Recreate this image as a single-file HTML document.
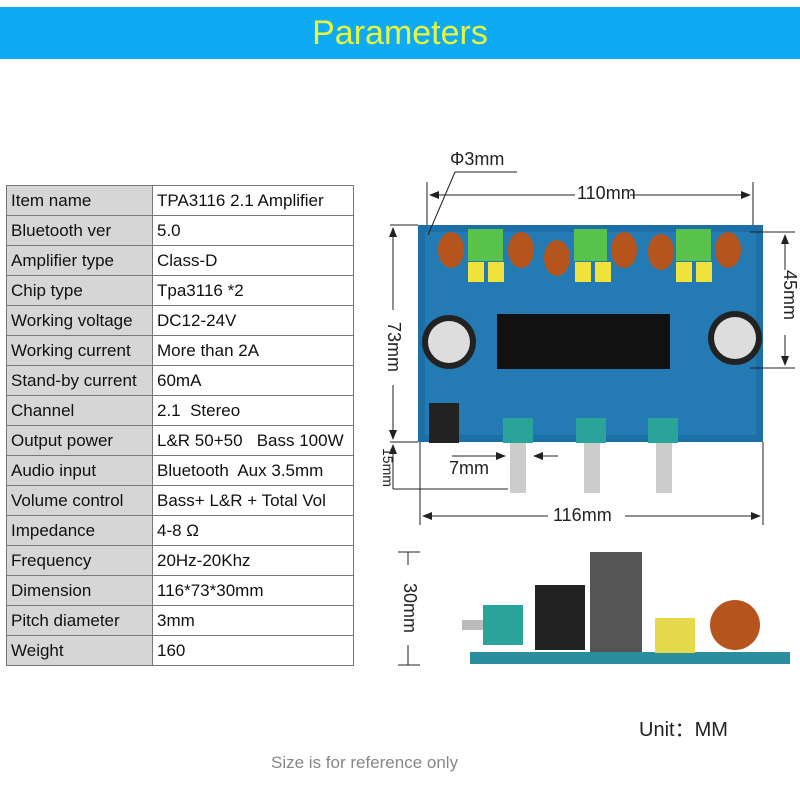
<!DOCTYPE html>
<html><head><meta charset="utf-8"><style>
body{margin:0;width:800px;height:800px;background:#fff;position:relative;overflow:hidden;font-family:"Liberation Sans",sans-serif}
.hdr{position:absolute;left:0;top:7px;width:800px;height:52px;background:#0eaaf4;color:#e8f53c;font-size:34px;text-align:center;line-height:52px}
table{position:absolute;left:6px;top:185px;border-collapse:collapse;font-size:17px;color:#111}
td{border:1px solid #777;height:29px;padding:0 4px;white-space:nowrap}
td.k{background:#d6d6d6;width:137px}
td.v{width:192px}
.t{position:absolute;font-size:18px;color:#222}
</style></head><body>
<div class="hdr">Parameters</div>
<table>
<tr><td class="k">Item name</td><td class="v">TPA3116 2.1 Amplifier</td></tr>
<tr><td class="k">Bluetooth ver</td><td class="v">5.0</td></tr>
<tr><td class="k">Amplifier type</td><td class="v">Class-D</td></tr>
<tr><td class="k">Chip type</td><td class="v">Tpa3116 *2</td></tr>
<tr><td class="k">Working voltage</td><td class="v">DC12-24V</td></tr>
<tr><td class="k">Working current</td><td class="v">More than 2A</td></tr>
<tr><td class="k">Stand-by current</td><td class="v">60mA</td></tr>
<tr><td class="k">Channel</td><td class="v">2.1&nbsp; Stereo</td></tr>
<tr><td class="k">Output power</td><td class="v">L&amp;R 50+50&nbsp;&nbsp; Bass 100W</td></tr>
<tr><td class="k">Audio input</td><td class="v">Bluetooth&nbsp; Aux 3.5mm</td></tr>
<tr><td class="k">Volume control</td><td class="v">Bass+ L&amp;R + Total Vol</td></tr>
<tr><td class="k">Impedance</td><td class="v">4-8 Ω</td></tr>
<tr><td class="k">Frequency</td><td class="v">20Hz-20Khz</td></tr>
<tr><td class="k">Dimension</td><td class="v">116*73*30mm</td></tr>
<tr><td class="k">Pitch diameter</td><td class="v">3mm</td></tr>
<tr><td class="k">Weight</td><td class="v">160</td></tr>
</table>
<svg width="800" height="800" style="position:absolute;left:0;top:0">
<defs><marker id="a" markerWidth="10" markerHeight="8" refX="9" refY="4" orient="auto"><path d="M0,0L10,4L0,8z" fill="#222"/></marker></defs>
<rect x="418" y="225" width="345" height="217" fill="#1d6fa8"/>
<rect x="425" y="232" width="331" height="203" fill="#2a84bd" opacity=".6"/>
<g fill="#b5541c"><ellipse cx="451" cy="250" rx="13" ry="18"/><ellipse cx="521" cy="250" rx="13" ry="18"/><ellipse cx="557" cy="258" rx="13" ry="18"/><ellipse cx="624" cy="250" rx="13" ry="18"/><ellipse cx="661" cy="252" rx="13" ry="18"/><ellipse cx="728" cy="250" rx="13" ry="18"/></g>
<g fill="#59c24a"><rect x="468" y="229" width="35" height="32"/><rect x="574" y="229" width="33" height="32"/><rect x="676" y="229" width="35" height="32"/></g>
<g fill="#f0e23a"><rect x="468" y="262" width="16" height="20"/><rect x="488" y="262" width="16" height="20"/><rect x="575" y="262" width="16" height="20"/><rect x="595" y="262" width="16" height="20"/><rect x="676" y="262" width="16" height="20"/><rect x="696" y="262" width="16" height="20"/></g>
<rect x="497" y="314" width="173" height="55" fill="#111"/>
<circle cx="449" cy="342" r="27" fill="#222"/><circle cx="449" cy="342" r="21" fill="#ddd"/>
<circle cx="735" cy="338" r="27" fill="#222"/><circle cx="735" cy="338" r="21" fill="#ddd"/>
<rect x="429" y="403" width="30" height="40" fill="#222"/>
<g fill="#2aa39a"><rect x="503" y="418" width="30" height="25"/><rect x="576" y="418" width="30" height="25"/><rect x="648" y="418" width="30" height="25"/></g>
<g fill="#ccc"><rect x="510" y="443" width="16" height="50"/><rect x="584" y="443" width="16" height="50"/><rect x="656" y="443" width="16" height="50"/></g>
<g stroke="#222" stroke-width="1" fill="none">
<line x1="427" y1="182" x2="427" y2="225"/><line x1="753" y1="182" x2="753" y2="225"/>
<line x1="575" y1="195" x2="430" y2="195" marker-end="url(#a)"/><line x1="630" y1="195" x2="750" y2="195" marker-end="url(#a)"/>
<line x1="517" y1="172" x2="455" y2="172"/><line x1="455" y1="172" x2="428" y2="235"/>
<line x1="390" y1="225" x2="418" y2="225"/><line x1="393" y1="310" x2="393" y2="228" marker-end="url(#a)"/><line x1="393" y1="385" x2="393" y2="439" marker-end="url(#a)"/>
<line x1="390" y1="442" x2="418" y2="442"/><line x1="393" y1="475" x2="393" y2="445" marker-end="url(#a)"/><line x1="393" y1="475" x2="393" y2="489"/><line x1="393" y1="489" x2="508" y2="489"/>
<line x1="750" y1="232" x2="795" y2="232"/><line x1="750" y1="368" x2="795" y2="368"/>
<line x1="785" y1="270" x2="785" y2="235" marker-end="url(#a)"/><line x1="785" y1="335" x2="785" y2="365" marker-end="url(#a)"/>
<line x1="420" y1="442" x2="420" y2="525"/><line x1="763" y1="442" x2="763" y2="525"/>
<line x1="548" y1="516" x2="423" y2="516" marker-end="url(#a)"/><line x1="625" y1="516" x2="760" y2="516" marker-end="url(#a)"/>
<line x1="452" y1="456" x2="505" y2="456" marker-end="url(#a)"/><line x1="558" y1="456" x2="534" y2="456" marker-end="url(#a)"/>
<line x1="408" y1="552" x2="408" y2="565"/><line x1="408" y1="645" x2="408" y2="665"/><line x1="398" y1="552" x2="420" y2="552"/><line x1="398" y1="665" x2="420" y2="665"/>
</g>
<rect x="470" y="652" width="320" height="12" fill="#2a8e9e"/>
<rect x="462" y="620" width="22" height="10" fill="#bbb"/>
<rect x="483" y="605" width="40" height="40" fill="#2aa39a"/>
<rect x="535" y="585" width="50" height="65" fill="#222"/>
<rect x="590" y="552" width="52" height="100" fill="#555"/>
<rect x="655" y="618" width="40" height="35" fill="#e5d84a"/>
<circle cx="735" cy="625" r="25" fill="#b5541c"/>
</svg>
<div class="t" style="left:450px;top:149px">Φ3mm</div>
<div class="t" style="left:577px;top:183px">110mm</div>
<div class="t" style="top:322px;transform:rotate(90deg);transform-origin:left top;left:404px">73mm</div>
<div class="t" style="left:396px;top:448px;font-size:14px;transform:rotate(90deg);transform-origin:left top">15mm</div>
<div class="t" style="left:800px;top:270px;transform:rotate(90deg);transform-origin:left top">45mm</div>
<div class="t" style="left:449px;top:458px">7mm</div>
<div class="t" style="left:553px;top:505px">116mm</div>
<div class="t" style="left:420px;top:583px;transform:rotate(90deg);transform-origin:left top">30mm</div>
<div class="t" style="left:639px;top:713px;font-size:20px">Unit：MM</div>
<div class="t" style="left:271px;top:753px;font-size:17px;color:#888">Size is for reference only</div>
</body></html>
